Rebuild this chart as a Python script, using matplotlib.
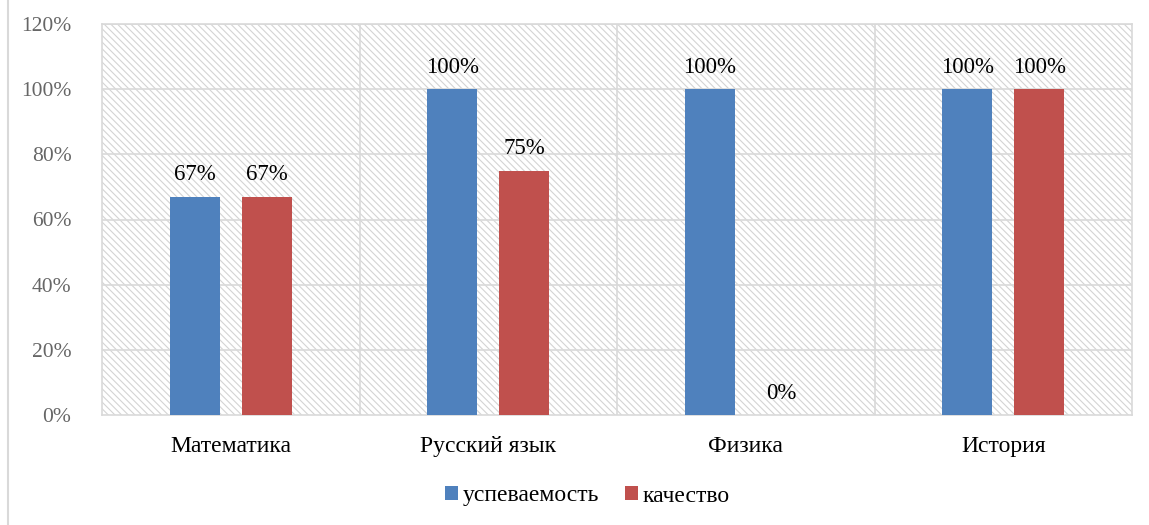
import numpy as np
import matplotlib
matplotlib.use("Agg")
import matplotlib.pyplot as plt
from matplotlib.patches import Rectangle

plt.rcParams['font.family'] = ['Liberation Serif', 'DejaVu Serif']
plt.rcParams['hatch.color'] = '#d4d4d4'
plt.rcParams['hatch.linewidth'] = 0.8

subjects = ['Математика', 'Русский язык', 'Физика', 'История']
uspevaemost = [67, 100, 100, 100]
kachestvo = [67, 75, 0, 100]
yticks = [0, 20, 40, 60, 80, 100, 120]

blue = '#4f81bd'
red = '#c0504d'
grid = '#d9d9d9'

fig = plt.figure(figsize=(11.49, 5.25), dpi=100)
ax = fig.add_axes([102 / 1149, 1 - 415 / 525, 1030 / 1149, 391 / 525])

# hatched background of plot area
ax.add_patch(Rectangle((0, 0), 1, 1, transform=ax.transAxes, facecolor='white',
                       hatch='\\\\\\\\\\', edgecolor='#d4d4d4', linewidth=0, zorder=0))

x = np.arange(len(subjects))
w = 0.194
off = 0.14
b1 = ax.bar(x - off, uspevaemost, w, color=blue, zorder=3, label='успеваемость')
b2 = ax.bar(x + off, kachestvo, w, color=red, zorder=3, label='качество')

for bars, vals in ((b1, uspevaemost), (b2, kachestvo)):
    for r, v in zip(bars, vals):
        ax.text(r.get_x() + r.get_width() / 2, v + 3.5, f'{v}%', ha='center', va='bottom',
                fontsize=16.5, color='black', zorder=4)

ax.set_xlim(-0.5, len(subjects) - 0.5)
ax.set_ylim(0, 120)
ax.set_yticks(yticks)
ax.set_yticklabels([f'{t}%' for t in yticks], fontsize=15.5, color='#666666')
ax.set_xticks(x)
ax.set_xticklabels(subjects, fontsize=17, color='black')
ax.tick_params(length=0)
ax.tick_params(axis='x', pad=15)
ax.tick_params(axis='y', pad=22)

for t in yticks[1:]:
    ax.axhline(t, color=grid, lw=1.2, zorder=1)
for b in np.arange(0.5, len(subjects) - 0.5, 1):
    ax.axvline(b, color=grid, lw=1.2, zorder=1)
for s in ax.spines.values():
    s.set_color(grid)
    s.set_linewidth(1.2)

fig.legend(handles=[b1, b2], loc='center', bbox_to_anchor=(587 / 1149, 1 - 496 / 525), ncol=2,
           frameon=False, fontsize=17, handlelength=0.55, handleheight=0.55,
           handletextpad=0.2, columnspacing=1.1)

# outer chart frame (left edge visible)
fig.add_artist(plt.Line2D([8 / 1149, 8 / 1149], [0, 1], color=grid, lw=1.5))

fig.savefig('out.png', dpi=100)
